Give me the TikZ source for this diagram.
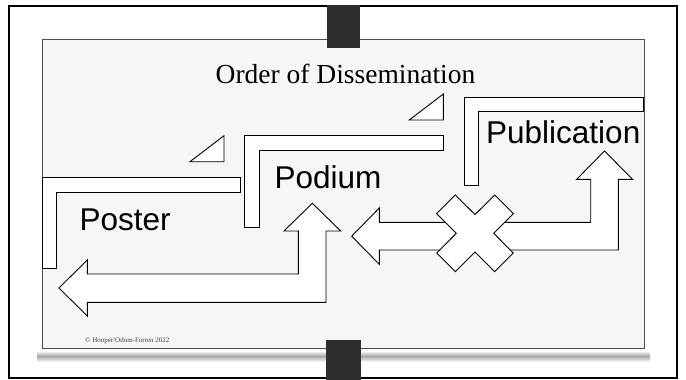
\documentclass[tikz,border=0pt]{standalone}
\usepackage{fontspec}
\setmainfont{Liberation Serif}
\newfontfamily\labelfont{Liberation Sans}
\definecolor{slidegray}{HTML}{F6F6F6}
\definecolor{bardark}{HTML}{2E2E2E}
\tikzset{
  shapefill/.style={draw=black, fill=white, line width=0.9pt, line join=miter},
  biglabel/.style={anchor=base west, inner sep=0pt, font=\labelfont\fontsize{31.5}{36}\selectfont},
}
\begin{document}
\begin{tikzpicture}[x=1pt,y=-1pt]
\useasboundingbox (0,0) rectangle (686,380);
\fill[white] (0,0) rectangle (686,380);
% slide shadow
\shade[top color=white, bottom color=black!35] (37,351) rectangle (650,356);
\shade[top color=black!35, bottom color=white] (37,356) rectangle (650,362);
% slide
\draw[fill=slidegray, draw=black!70, line width=1pt] (42,39) rectangle (644.3,348.5);
% outer frame
\draw[line width=1.8pt] (9.2,6) rectangle (677.2,378.3);
% binder bars
\fill[bardark] (326.5,5) rectangle (359.5,47.5);
\fill[bardark] (326,340) rectangle (360.5,380);
% title
\node[anchor=base, inner sep=0pt, font=\fontsize{27.5}{32}\selectfont] (title) at (345.5,83.3) {Order of Dissemination};
% L-shaped ribbons
\draw[shapefill] (42.3,177.3) -- (240.7,177.3) -- (240.7,192) -- (56.7,192) -- (56.7,268.3) -- (42.3,268.3) -- cycle;
\draw[shapefill] (244.3,135.7) -- (443.3,135.7) -- (443.3,150.7) -- (259.3,150.7) -- (259.3,227.3) -- (244.3,227.3) -- cycle;
\draw[shapefill] (464,97.7) -- (643.3,97.7) -- (643.3,111) -- (478.3,111) -- (478.3,185) -- (464,185) -- cycle;
% triangles
\draw[shapefill] (190,161.7) -- (224,135.7) -- (224,161.7) -- cycle;
\draw[shapefill] (409.3,120) -- (443.3,94) -- (443.3,120) -- cycle;
% bent arrow (poster)
\draw[shapefill] (59,288) -- (87.3,260) -- (87.3,274) -- (298.3,274) -- (298.3,231) -- (284,231) -- (312.3,203.3) -- (340.7,231) -- (326,231) -- (326,302.3) -- (87.3,302.3) -- (87.3,316) -- cycle;
% bent arrow (right)
\draw[shapefill] (351.7,236.2) -- (379.3,208) -- (379.3,222.3) -- (590.7,222.3) -- (590.7,179.3) -- (576.7,179.3) -- (604.5,151) -- (632.5,179.3) -- (618.3,179.3) -- (618.3,250) -- (379.3,250) -- (379.3,264.3) -- cycle;
% cross
\draw[shapefill] (475,214.6) -- (494.7,195) -- (513.3,213.6) -- (493.7,233.3) -- (513.3,253) -- (494.7,271.6) -- (475,252) -- (455.3,271.6) -- (436.7,253) -- (456.3,233.3) -- (436.7,213.6) -- (455.3,195) -- cycle;
% labels
\node[biglabel] (poster) at (79.5,230) {Poster};
\node[biglabel] (podium) at (274.5,188.3) {Podium};
\node[biglabel] (publication) at (486,143.3) {Publication};
% copyright
\node[anchor=base west, inner sep=0pt, font=\fontsize{7}{8}\selectfont, text=black!75] (copyright) at (85,342.5) {© Hooper/Odom-Forren 2022};
\end{tikzpicture}
\end{document}
